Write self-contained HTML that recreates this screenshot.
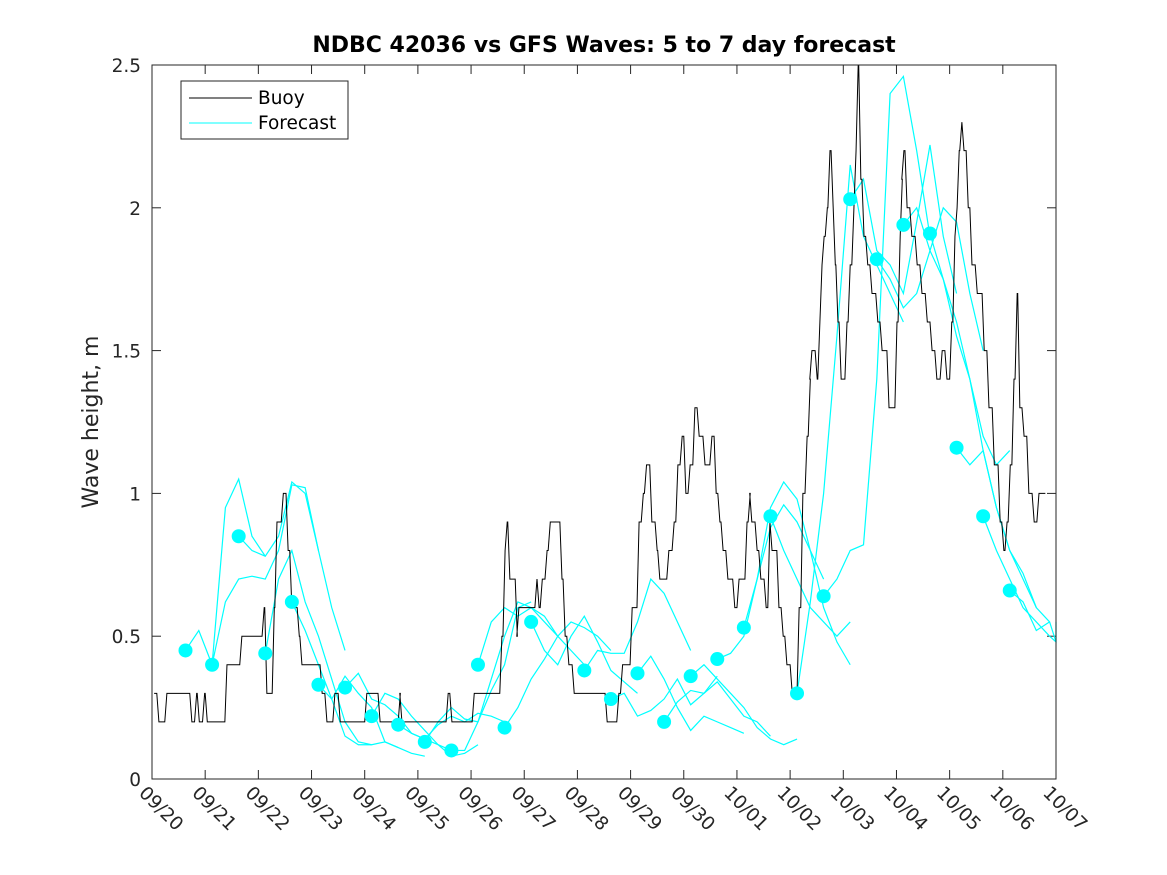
<!DOCTYPE html>
<html><head><meta charset="utf-8"><style>
body{margin:0;background:#fff;}
svg{display:block;font-family:"DejaVu Sans","Liberation Sans",sans-serif;}
</style></head><body>
<svg id="chart" width="1167" height="875">
<rect x="0" y="0" width="1167" height="875" fill="#fff"/>
<rect x="152" y="65" width="904" height="714" fill="#fff"/>
<g id="ticks"></g>
<g id="series"></g>
<rect x="152" y="65" width="904" height="714" fill="none" stroke="#262626" stroke-width="1"/>
<text x="604" y="52" text-anchor="middle" font-size="22" font-weight="bold" fill="#000">NDBC 42036 vs GFS Waves: 5 to 7 day forecast</text>
<text transform="translate(98,422) rotate(-90)" text-anchor="middle" font-size="22" fill="#262626">Wave height, m</text>
<g>
<rect x="181" y="81" width="167" height="58" fill="#fff" stroke="#262626" stroke-width="1"/>
<line x1="189" y1="98" x2="252" y2="98" stroke="#000" stroke-width="1"/>
<text x="258" y="104" font-size="18.5" fill="#000">Buoy</text>
<line x1="189" y1="123" x2="252" y2="123" stroke="#00ffff" stroke-width="1"/>
<text x="258" y="129" font-size="18.5" fill="#000">Forecast</text>
</g>
</svg>
<script>
const xTickLabels=["09/20","09/21","09/22","09/23","09/24","09/25","09/26","09/27","09/28","09/29","09/30","10/01","10/02","10/03","10/04","10/05","10/06","10/07"];
const yTicks=[0,0.5,1,1.5,2,2.5];
const yTickLabels=["0","0.5","1","1.5","2","2.5"];
const buoyDays=[0,0.09,0.24,0.71,0.8,0.85,0.95,1.0,1.37,1.65,2.07,2.12,2.26,2.31,2.43,2.52,2.59,2.73,2.78,2.93,3.16,3.25,3.40,3.5,3.55,4.0,4.04,4.25,4.29,4.63,4.66,4.80,4.98,5.53,5.6,5.98,6.02,6.54,6.60,6.64,6.69,6.83,6.86,6.92,7.20,7.24,7.30,7.39,7.45,7.48,7.67,7.73,7.80,7.90,7.99,8.52,8.56,8.74,8.81,8.84,8.99,9.12,9.20,9.26,9.36,9.46,9.51,9.61,9.68,9.78,9.85,9.93,10.0,10.08,10.17,10.25,10.36,10.49,10.57,10.64,10.70,10.79,10.92,11.0,11.15,11.21,11.24,11.34,11.41,11.51,11.58,11.62,11.75,11.83,11.90,12.0,12.13,12.2,12.28,12.34,12.37,12.47,12.52,12.56,12.6,12.66,12.71,12.77,12.81,12.86,12.92,13.03,13.09,13.16,13.2,13.24,13.29,13.35,13.42,13.5,13.61,13.69,13.82,13.97,14.03,14.07,14.1,14.16,14.25,14.35,14.44,14.54,14.63,14.72,14.82,14.91,15.0,15.06,15.1,15.14,15.19,15.23,15.31,15.38,15.48,15.61,15.7,15.8,15.91,15.98,16.04,16.1,16.17,16.23,16.28,16.36,16.45,16.55,16.64,16.75];
const buoyValues=[0.3,0.2,0.3,0.2,0.3,0.2,0.3,0.2,0.4,0.5,0.6,0.3,0.6,0.9,1.0,0.8,0.6,0.5,0.4,0.4,0.3,0.2,0.3,0.2,0.2,0.3,0.3,0.2,0.2,0.3,0.2,0.2,0.2,0.3,0.2,0.2,0.3,0.5,0.8,0.9,0.7,0.5,0.6,0.6,0.7,0.6,0.7,0.8,0.9,0.9,0.7,0.5,0.4,0.3,0.3,0.2,0.2,0.3,0.4,0.4,0.6,0.9,1.0,1.1,0.9,0.8,0.7,0.7,0.8,0.9,1.1,1.2,1.0,1.1,1.3,1.2,1.1,1.2,1.0,0.9,0.8,0.7,0.6,0.7,0.9,1.0,0.9,0.8,0.7,0.6,0.9,0.8,0.6,0.5,0.4,0.3,0.6,1.0,1.2,1.4,1.5,1.4,1.6,1.8,1.9,2.0,2.2,2.0,1.8,1.6,1.4,1.6,1.8,2.0,2.2,2.5,2.1,1.9,1.8,1.7,1.6,1.5,1.3,1.6,1.9,2.1,2.2,2.0,1.9,1.8,1.7,1.6,1.5,1.4,1.5,1.4,1.6,1.9,2.0,2.2,2.3,2.2,2.0,1.8,1.7,1.5,1.3,1.1,0.9,0.8,0.9,1.1,1.4,1.7,1.3,1.2,1.0,0.9,1.0,1.0];
const forecastStarts=[0.63,1.13,1.63,2.13,2.63,3.13,3.63,4.13,4.63,5.13,5.63,6.13,6.63,7.13,8.13,8.63,9.13,9.63,10.13,10.63,11.13,11.63,12.13,12.63,13.13,13.63,14.13,14.63,15.13,15.63,16.13];
const forecastStep=0.25;
const forecastValues=[
[.45,.52,.40,.95,1.05,.85,.78],
[.40,.62,.70,.71,.70,.80,1.03,1.02,.80],
[.85,.80,.78,.85,1.04,1.00,.80,.60,.45],
[.44,.70,.80,.62,.50,.35,.20,.13,.12],
[.62,.52,.40,.28,.15,.12,.12,.13,.11],
[.33,.28,.36,.30,.25,.13,.11,.09,.08],
[.32,.37,.28,.26,.22,.16,.14,.12,.10],
[.22,.30,.28,.22,.17,.12,.08,.09,.12],
[.19,.16,.14,.19,.22,.20,.23,.22,.20],
[.13,.20,.25,.21,.20,.31,.40,.60,.62],
[.10,.10,.20,.35,.50,.62,.60,.55,.50],
[.40,.55,.60,.57,.60,.57,.50,.45,.40],
[.18,.25,.35,.42,.50,.55,.53,.50,.45],
[.55,.45,.40,.50,.57,.48,.38,.34,.30],
[.38,.45,.44,.44,.55,.70,.65,.55,.45],
[.28,.30,.22,.24,.28,.35,.26,.30,.36],
[.37,.43,.35,.25,.17,.22,.20,.18,.16],
[.20,.27,.31,.30,.34,.28,.22,.20,.15],
[.36,.40,.35,.30,.25,.18,.14,.12,.14],
[.42,.44,.50,.70,.88,.96,.90,.80,.70],
[.53,.70,.95,1.04,.98,.80,.60,.48,.40],
[.92,.80,.70,.60,.55,.50,.55],
[.30,.62,1.00,1.55,2.15,1.90,1.80,1.70,1.60],
[.64,.70,.80,.82,1.40,2.40,2.46,2.20,1.90],
[2.03,2.10,1.85,1.80,1.70,1.95,2.22,1.90,1.70],
[1.82,1.75,1.65,1.70,1.85,2.00,1.95,1.70,1.50],
[1.94,2.00,1.85,1.75,1.55,1.40,1.20,1.10,1.15],
[1.91,1.75,1.60,1.40,1.15,0.95,0.80,0.70,0.60],
[1.16,1.10,1.15,0.95,0.80,0.72,0.60,0.55,0.48],
[0.92,0.80,0.70,0.60,0.55,0.50,0.48,0.50,0.55],
[0.66,0.62,0.52,0.55]
];
const NS="http://www.w3.org/2000/svg";
const X0=152,X1=1056,Y0=779,Y1=65,DAYS=17,YMAX=2.5;
function xs(d){return X0+(X1-X0)*d/DAYS;}
function ys(v){return Y0-(Y0-Y1)*v/YMAX;}
const ticks=document.getElementById('ticks');
const series=document.getElementById('series');
function mk(tag,attrs,parent){const e=document.createElementNS(NS,tag);for(const k in attrs)e.setAttribute(k,attrs[k]);parent.appendChild(e);return e;}
xTickLabels.forEach((lab,i)=>{
  const x=xs(i);
  let t=mk('line',{x1:x,y1:Y0,x2:x,y2:Y0-9,stroke:'#262626'},ticks);
  
  
  t=mk('line',{x1:x,y1:Y1,x2:x,y2:Y1+9,stroke:'#262626'},ticks);
  
  
  const tx=mk('text',{transform:`translate(${x-14},${Y0+15}) rotate(45)`,'font-size':18.5,fill:'#262626'},ticks);
  tx.textContent=lab;
  
  
});
yTicks.forEach((v,i)=>{
  const y=ys(v);
  let t=mk('line',{x1:X0,y1:y,x2:X0+9,y2:y,stroke:'#262626'},ticks);
  
  
  t=mk('line',{x1:X1,y1:y,x2:X1-9,y2:y,stroke:'#262626'},ticks);
  
  
  const tx=mk('text',{x:X0-11,y:y+7,'text-anchor':'end','font-size':18.5,fill:'#262626'},ticks);
  tx.textContent=yTickLabels[i];
  
  
});
forecastStarts.forEach((s,i)=>{
  const vals=forecastValues[i];
  const pts=vals.map((v,j)=>xs(Math.min(s+j*forecastStep,DAYS))+','+ys(v)).join(' ');
  const p=mk('polyline',{points:pts,fill:'none',stroke:'#00ffff','stroke-width':1.2},series);
  
  
});
let pts=[];
buoyDays.forEach((t,i)=>{
  if(i>0)pts.push(xs(t)+','+ys(buoyValues[i-1]));
  pts.push(xs(t+0.04)+','+ys(buoyValues[i]));
});
pts.push(xs(16.8)+','+ys(buoyValues[buoyValues.length-1]));
const bp=mk('polyline',{points:pts.join(' '),fill:'none',stroke:'#000','stroke-width':1},series);


forecastStarts.forEach((s,i)=>{
  const c=mk('ellipse',{cx:xs(s),cy:ys(forecastValues[i][0]),rx:7,ry:7,fill:'#00ffff'},series);
  
  
});
</script>
</body></html>
